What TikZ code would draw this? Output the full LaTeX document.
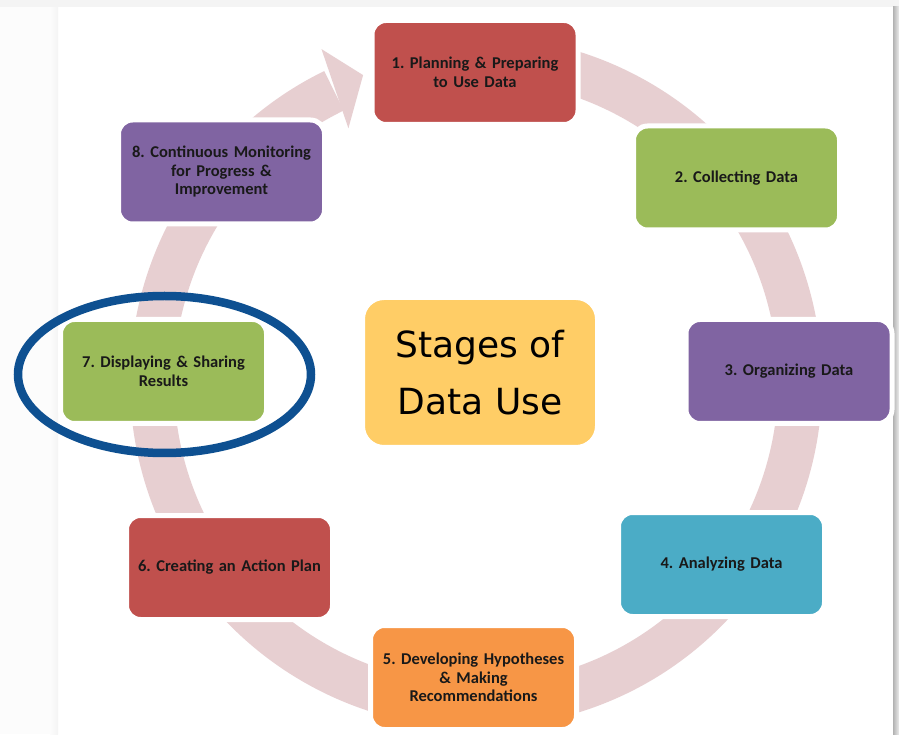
\documentclass[tikz,border=0pt]{standalone}
\usepackage{fontspec}
\setmainfont{Carlito}
\newfontfamily\titlefont{DejaVu Sans}
\definecolor{ringc}{RGB}{231,207,209}
\definecolor{cred}{RGB}{192,80,77}
\definecolor{cgreen}{RGB}{155,187,89}
\definecolor{cpurple}{RGB}{128,100,162}
\definecolor{cteal}{RGB}{75,172,198}
\definecolor{corange}{RGB}{247,150,70}
\definecolor{cyellow}{RGB}{255,205,102}
\definecolor{cblue}{RGB}{14,80,145}
\frenchspacing
\begin{document}
\begin{tikzpicture}[x=1pt,y=1pt,
  stagebox/.style={rounded corners=14pt, draw=white, line width=5pt,
    minimum width=206pt, minimum height=104pt, inner sep=0pt,
    text width=192pt, align=center, text=black!90,
    font=\bfseries\fontsize{16.5}{18.5}\selectfont},
  centerbox/.style={rounded corners=20pt, fill=cyellow, draw=white, line width=2pt,
    minimum width=232pt, minimum height=147pt, inner sep=0pt, align=center,
    font=\titlefont\fontsize{36}{57}\selectfont},
  ringline/.style={draw=ringc, line width=44pt},
  highlight/.style={draw=cblue, line width=8.5pt}]
\useasboundingbox (0,0) rectangle (899,734);
% background page
\fill[white] (0,0) rectangle (899,734);
\fill[gray!2] (0,0) rectangle (58,727);
\shade[left color=gray!2, right color=gray!9] (50,0) rectangle (58,727);
\fill[gray!9] (0,727) rectangle (899,734);
\shade[left color=gray!60, right color=gray!15] (893,0) rectangle (899,727);
% ring
\coordinate (rc) at (476,352);
\draw[ringline] ([shift={(105:324)}]rc) arc[start angle=105, end angle=-244, radius=324pt];
\coordinate (headout) at ([shift={(114.9:367)}]rc);
\coordinate (headtip) at ([shift={(110.2:327)}]rc);
\coordinate (headin) at ([shift={(116.7:284)}]rc);
\fill[ringc] (headout) -- (headtip) -- (headin) -- cycle;
% stages
\node[stagebox, fill=cred] (s1) at (475,661.5) {1. Planning \& Preparing\\to Use Data};
\node[stagebox, fill=cgreen] (s2) at (736.5,556) {2. Collecting Data};
\node[stagebox, fill=cpurple] (s3) at (789,362.5) {3. Organizing Data};
\node[stagebox, fill=cteal] (s4) at (721.5,169.5) {4. Analyzing Data};
\node[stagebox, fill=corange] (s5) at (473.5,56.5) {5. Developing Hypotheses\\\& Making\\Recommendations};
\node[stagebox, fill=cred] (s6) at (229.5,166.5) {6. Creating an Action Plan};
\node[stagebox, fill=cgreen] (s7) at (163.5,362.5) {7. Displaying \& Sharing\\Results};
\node[stagebox, fill=cpurple] (s8) at (221.5,562) {8. Continuous Monitoring\\for Progress \&\\Improvement};
\node[centerbox] (title) at (480,361.5) {Stages of\\Data Use};
% highlight ellipse
\draw[highlight] (164.5,359.5) ellipse[x radius=146.5pt, y radius=78.5pt];
\end{tikzpicture}
\end{document}
